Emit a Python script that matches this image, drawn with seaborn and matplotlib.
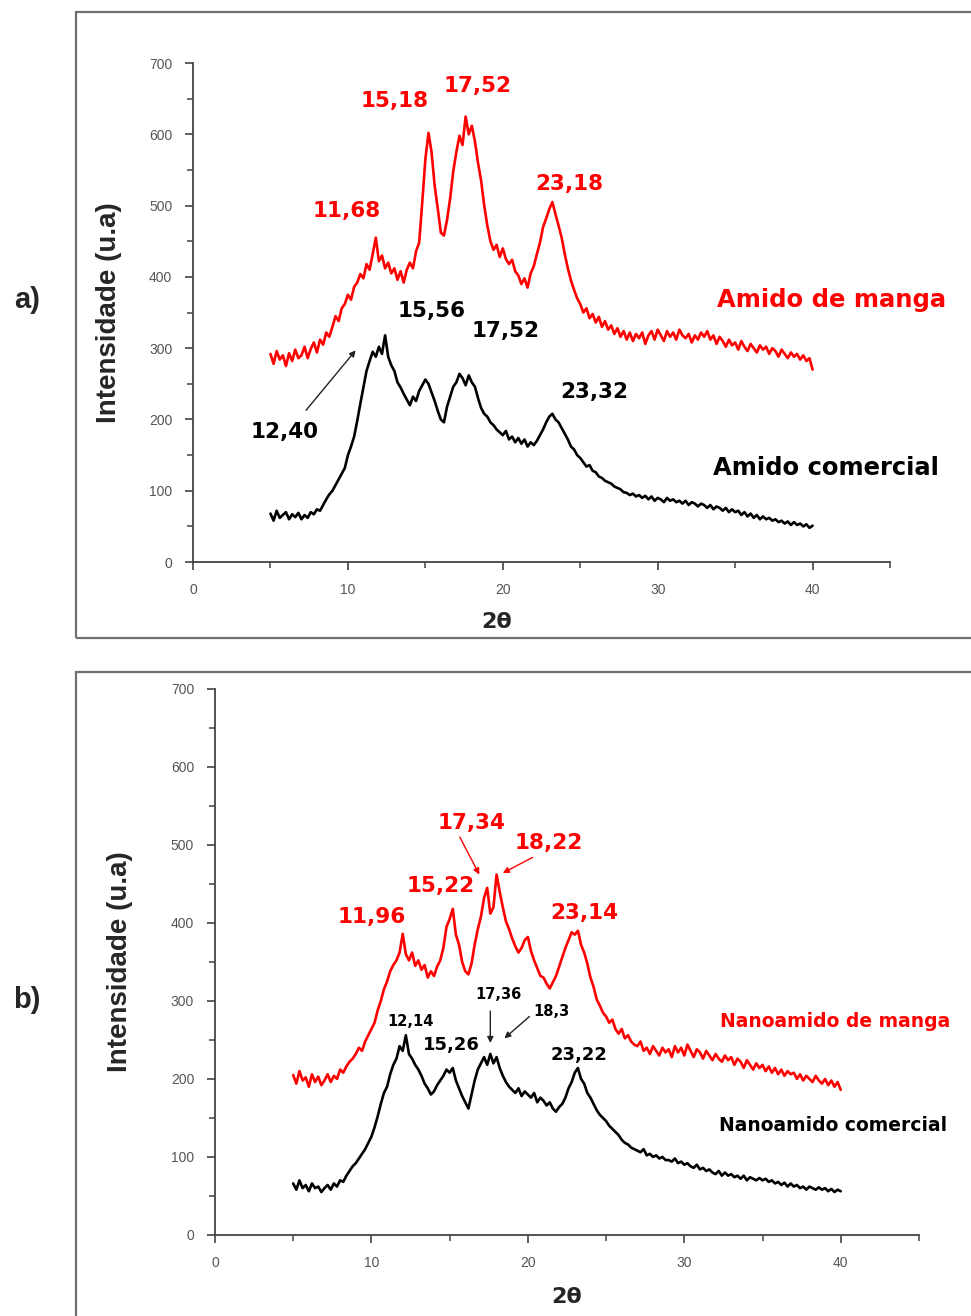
import numpy as np
import pandas as pd
import matplotlib
matplotlib.use("Agg")
import matplotlib.pyplot as plt
from matplotlib.patches import Rectangle
from matplotlib.ticker import MultipleLocator
import seaborn as sns

# grade de 2theta (5 a 40, passo 0.2)
two_theta = np.round(np.arange(5.0, 40.01, 0.2), 1)

# a) amidos
amido_manga = [
    292, 278, 296, 284, 290, 275, 293, 282, 298, 286,
    290, 302, 286, 299, 308, 294, 312, 305, 322, 316,
    330, 345, 338, 356, 362, 375, 368, 386, 392, 404,
    398, 418, 410, 432, 455, 422, 430, 412, 420, 405,
    412, 396, 408, 392, 410, 420, 412, 436, 448, 505,
    565, 602, 575, 528, 496, 462, 458, 480, 510, 548,
    575, 598, 585, 625, 600, 612, 590, 560, 535, 500,
    472, 450, 438, 445, 428, 440, 425, 418, 424, 408,
    402, 390, 398, 385, 405, 415, 432, 448, 470, 482,
    495, 505, 488, 472, 455, 432, 412, 395, 382, 370,
    362, 350, 356, 342, 348, 336, 344, 330, 338, 326,
    332, 320, 328, 316, 324, 312, 322, 310, 320, 314,
    322, 306, 318, 324, 312, 326, 318, 310, 324, 316,
    322, 312, 326, 318, 314, 320, 308, 318, 312, 322,
    316, 324, 312, 318, 306, 316, 310, 302, 312, 304,
    308, 298, 310, 302, 296, 306, 300, 294, 304, 298,
    302, 292, 300, 296, 288, 298, 292, 286, 294, 288,
    292, 284, 290, 282, 286, 270,
]
amido_comercial = [
    68, 58, 72, 62, 66, 70, 60, 67, 63, 69,
    60, 66, 62, 70, 67, 74, 72, 80, 88, 95,
    100, 108, 116, 124, 132, 150, 162, 176, 198, 222,
    245, 268, 282, 295, 288, 302, 292, 318, 288, 276,
    268, 252, 245, 236, 228, 220, 232, 226, 240, 248,
    256, 250, 238, 226, 212, 200, 196, 218, 232, 246,
    252, 264, 258, 248, 262, 252, 246, 230, 216, 208,
    204, 196, 192, 186, 182, 178, 184, 172, 176, 168,
    174, 166, 172, 162, 168, 164, 170, 178, 186, 196,
    204, 208, 200, 196, 188, 180, 172, 162, 158, 150,
    146, 140, 134, 136, 128, 126, 120, 118, 114, 112,
    110, 106, 104, 102, 98, 97, 94, 96, 92, 94,
    90, 93, 88, 92, 86, 90, 88, 84, 90, 86,
    88, 84, 86, 82, 86, 80, 84, 82, 78, 82,
    80, 76, 80, 74, 78, 76, 72, 76, 70, 74,
    70, 72, 66, 70, 64, 68, 62, 66, 60, 64,
    60, 62, 58, 60, 56, 58, 54, 57, 52, 56,
    52, 54, 50, 53, 48, 51,
]

# b) nanoamidos
nano_manga = [
    205, 194, 210, 198, 202, 190, 206, 196, 203, 192,
    198, 206, 196, 204, 200, 212, 208, 216, 222, 226,
    232, 240, 236, 248, 256, 264, 272, 288, 300, 315,
    325, 338, 346, 352, 362, 386, 360, 352, 362, 345,
    352, 340, 346, 330, 338, 332, 344, 352, 368, 395,
    405, 418, 385, 372, 350, 338, 334, 348, 372, 392,
    408, 432, 445, 412, 420, 462, 440, 420, 402, 392,
    380, 370, 362, 368, 378, 382, 364, 352, 342, 332,
    330, 322, 316, 324, 332, 344, 356, 368, 378, 388,
    385, 390, 372, 362, 348, 330, 318, 302, 294, 285,
    280, 272, 276, 264, 258, 264, 252, 256, 248, 244,
    242, 248, 236, 240, 232, 242, 236, 230, 240, 234,
    238, 228, 242, 234, 240, 230, 244, 236, 228, 238,
    234, 226, 236, 230, 224, 232, 226, 222, 230, 224,
    228, 218, 226, 222, 214, 224, 218, 212, 220, 214,
    218, 210, 216, 208, 214, 206, 212, 204, 210, 206,
    208, 200, 206, 198, 204, 200, 196, 204, 198, 194,
    200, 192, 198, 190, 196, 186,
]
nano_comercial = [
    66, 58, 70, 60, 64, 56, 66, 60, 62, 55,
    60, 64, 58, 66, 62, 70, 68, 76, 82, 88,
    92, 98, 104, 110, 118, 126, 138, 152, 168, 182,
    190, 206, 218, 226, 242, 236, 256, 232, 226, 218,
    212, 204, 194, 188, 180, 184, 192, 198, 204, 212,
    208, 214, 198, 188, 178, 170, 162, 180, 198, 212,
    220, 228, 218, 232, 220, 228, 214, 204, 196, 190,
    186, 182, 188, 178, 184, 180, 176, 182, 170, 176,
    172, 166, 170, 162, 158, 164, 168, 176, 188, 196,
    208, 214, 200, 194, 182, 176, 168, 160, 154, 150,
    146, 140, 136, 132, 128, 122, 118, 116, 112, 110,
    108, 106, 110, 102, 104, 100, 102, 98, 100, 96,
    96, 94, 98, 92, 94, 90, 92, 88, 86, 90,
    84, 86, 82, 84, 80, 78, 82, 76, 80, 76,
    78, 74, 76, 72, 76, 70, 74, 72, 70, 73,
    70, 72, 68, 70, 66, 68, 64, 67, 62, 66,
    62, 64, 60, 62, 58, 62, 60, 58, 61, 58,
    60, 56, 59, 55, 58, 56,
]

RED = "#ff0000"
BLACK = "#000000"

sns.set_style("ticks")
plt.rcParams["font.family"] = ["DejaVu Sans"]

fig = plt.figure(figsize=(9.71, 13.16), dpi=100)

# molduras cinza em volta de cada painel
for y0, h in [(0.5152, 0.4757), (-0.02, 0.5094)]:
    fig.patches.append(Rectangle((0.0783, y0), 1.0, h, transform=fig.transFigure,
                                 fill=False, edgecolor="#707070", linewidth=1.6))

ax_a = fig.add_axes([0.1988, 0.5729, 0.7178, 0.3792])
ax_b = fig.add_axes([0.2214, 0.0616, 0.7250, 0.4149])


def style_axis(ax, lab_x, lab2_x, lab2_y):
    ax.set_xlim(0, 45)
    ax.set_ylim(0, 700)
    ax.xaxis.set_major_locator(MultipleLocator(10))
    ax.xaxis.set_minor_locator(MultipleLocator(5))
    ax.yaxis.set_major_locator(MultipleLocator(100))
    ax.yaxis.set_minor_locator(MultipleLocator(50))
    ax.set_xticks([0, 10, 20, 30, 40])
    sns.despine(ax=ax)
    for s in ["left", "bottom"]:
        ax.spines[s].set_color("#444444")
        ax.spines[s].set_linewidth(1.3)
    ax.tick_params(which="major", direction="out", length=6, width=1.2,
                   color="#444444", labelcolor="#555555", labelsize=10, pad=9)
    ax.tick_params(which="minor", direction="out", length=4, width=1.1, color="#444444")
    for lab in ax.get_xticklabels() + ax.get_yticklabels():
        lab.set_family("Liberation Sans")
    ax.set_ylabel("Intensidade (u.a)", family="Liberation Sans", fontweight="bold", fontsize=20)
    ax.yaxis.set_label_coords(lab_x, 0.5)
    ax.set_xlabel("2θ", fontweight="bold", fontsize=16)
    ax.xaxis.set_label_coords(lab2_x, lab2_y)


def arrow(ax, tail, head, color):
    ax.annotate("", xy=head, xytext=tail,
                arrowprops=dict(arrowstyle="-|>", color=color, lw=1.0,
                                mutation_scale=9, shrinkA=0, shrinkB=0))


df_a = pd.DataFrame({"2theta": np.concatenate([two_theta, two_theta]),
                     "I": amido_manga + amido_comercial,
                     "amostra": ["Amido de manga"] * len(two_theta) + ["Amido comercial"] * len(two_theta)})
sns.lineplot(data=df_a, x="2theta", y="I", hue="amostra", estimator=None,
             palette={"Amido de manga": RED, "Amido comercial": BLACK},
             linewidth=1.9, legend=False, ax=ax_a)

df_b = pd.DataFrame({"2theta": np.concatenate([two_theta, two_theta]),
                     "I": nano_manga + nano_comercial,
                     "amostra": ["Nanoamido de manga"] * len(two_theta) + ["Nanoamido comercial"] * len(two_theta)})
sns.lineplot(data=df_b, x="2theta", y="I", hue="amostra", estimator=None,
             palette={"Nanoamido de manga": RED, "Nanoamido comercial": BLACK},
             linewidth=1.9, legend=False, ax=ax_b)

style_axis(ax_a, -0.102, 0.436, -0.10)
style_axis(ax_b, -0.116, 0.5, -0.095)

big = dict(fontweight="bold", fontsize=15.5, ha="center", va="center")
small = dict(fontweight="bold", fontsize=10.5, ha="center", va="center")

# anotacoes painel a
ax_a.text(9.9, 492, "11,68", color=RED, **big)
ax_a.text(13.0, 647, "15,18", color=RED, **big)
ax_a.text(18.4, 668, "17,52", color=RED, **big)
ax_a.text(24.3, 530, "23,18", color=RED, **big)
ax_a.text(15.4, 352, "15,56", color=BLACK, **big)
ax_a.text(20.2, 324, "17,52", color=BLACK, **big)
ax_a.text(25.9, 238, "23,32", color=BLACK, **big)
ax_a.text(5.9, 182, "12,40", color=BLACK, **big)
arrow(ax_a, (7.3, 213), (10.5, 297), "#222222")
ax_a.text(33.8, 367, "Amido de manga", color=RED, fontweight="bold", fontsize=17.5,
          ha="left", va="center")
ax_a.text(33.6, 132, "Amido comercial", color=BLACK, fontweight="bold", fontsize=17.5,
          ha="left", va="center")

# anotacoes painel b
ax_b.text(10.0, 408, "11,96", color=RED, **big)
ax_b.text(14.4, 447, "15,22", color=RED, **big)
ax_b.text(23.6, 413, "23,14", color=RED, **big)
ax_b.text(16.4, 528, "17,34", color=RED, **big)
arrow(ax_b, (15.65, 510), (16.9, 462), RED)
ax_b.text(21.3, 503, "18,22", color=RED, **big)
arrow(ax_b, (20.3, 484), (18.4, 464), RED)
ax_b.text(12.5, 273, "12,14", color=BLACK, **small)
ax_b.text(15.1, 244, "15,26", color=BLACK, fontweight="bold", fontsize=13, ha="center", va="center")
ax_b.text(23.3, 231, "23,22", color=BLACK, fontweight="bold", fontsize=13, ha="center", va="center")
ax_b.text(18.1, 308, "17,36", color=BLACK, **small)
arrow(ax_b, (17.6, 287), (17.6, 246), "#222222")
ax_b.text(21.5, 286, "18,3", color=BLACK, **small)
arrow(ax_b, (20.1, 280), (18.5, 252), "#222222")
ax_b.text(32.3, 274, "Nanoamido de manga", color=RED, fontweight="bold", fontsize=13.5,
          ha="left", va="center")
ax_b.text(32.2, 140, "Nanoamido comercial", color=BLACK, fontweight="bold", fontsize=13.5,
          ha="left", va="center")

# letras dos paineis
fig.text(27 / 971, 1 - 300 / 1316, "a)", family="Liberation Sans", fontweight="bold",
         fontsize=21, ha="center", va="center")
fig.text(27 / 971, 1 - 1000 / 1316, "b)", family="Liberation Sans", fontweight="bold",
         fontsize=21, ha="center", va="center")

fig.savefig("out.png", dpi=100)
